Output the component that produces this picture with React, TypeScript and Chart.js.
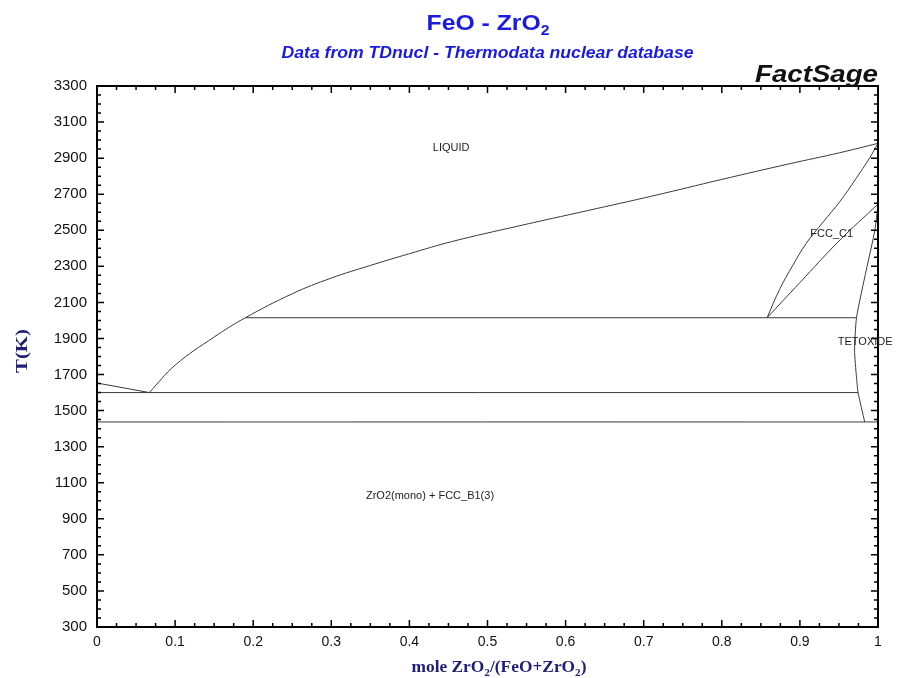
import React, { useEffect, useRef } from 'react';
import { Chart, registerables } from 'chart.js';
Chart.register(...registerables);

// ---- axis ticks ----
const xTickValues = [0, 0.1, 0.2, 0.3, 0.4, 0.5, 0.6, 0.7, 0.8, 0.9, 1];
const xTickLabels = ['0', '0.1', '0.2', '0.3', '0.4', '0.5', '0.6', '0.7', '0.8', '0.9', '1'];
const yTickValues = [300, 500, 700, 900, 1100, 1300, 1500, 1700, 1900, 2100, 2300, 2500, 2700, 2900, 3100, 3300];
const xMinorStep = 0.025;
const yMinorStep = 50;

// ---- phase boundaries (x = mole ZrO2/(FeO+ZrO2), T in K) ----
const liqLeftX = [0, 0.067];
const liqLeftT = [1653, 1600];

const liquidusX = [0.067, 0.1, 0.15, 0.19, 0.25, 0.3, 0.35, 0.4, 0.454, 0.54, 0.627, 0.713, 0.8, 0.886, 0.951, 1.0];
const liquidusT = [1600, 1752, 1908, 2015, 2148, 2235, 2305, 2370, 2437, 2524, 2608, 2692, 2782, 2868, 2930, 2982];

const fccUpperX = [0.858, 0.874, 0.891, 0.908, 0.93, 0.951, 0.972, 0.989, 1.0];
const fccUpperT = [2015, 2172, 2306, 2427, 2547, 2658, 2788, 2899, 2982];

const fccLowerX = [0.858, 0.9, 0.95, 1.0];
const fccLowerT = [2015, 2210, 2440, 2645];

const tetX = [1.0, 0.996, 0.985, 0.9725, 0.97, 0.9724, 0.9745, 0.983];
const tetT = [2645, 2500, 2280, 2015, 1835, 1687, 1600, 1437];

const monotecticX = [0.19, 0.9725];
const monotecticT = [2015, 2015];
const eutecticX = [0, 0.9745];
const eutecticT = [1600, 1600];
const lowerX = [0, 1];
const lowerT = [1437, 1437];

// ---- region labels ----
const labelTexts = ['LIQUID', 'FCC_C1', 'TETOXIDE', 'ZrO2(mono) + FCC_B1(3)'];
const labelX = [0.4534, 0.9408, 0.9836, 0.4264];
const labelT = [2958, 2482, 1881, 1024];

const toPts = (xs: number[], ts: number[]) => xs.map((x, i) => ({ x, y: ts[i] }));

const SANS = 'Arial, "Liberation Sans", Helvetica, sans-serif';
const SERIF = '"Times New Roman", "Liberation Serif", Times, serif';

type Part = { t: string; sub?: boolean };

function drawRich(
  ctx: CanvasRenderingContext2D,
  parts: Part[],
  x: number,
  y: number,
  align: 'center' | 'right' | 'left',
  font: string,
  subFont: string,
  subDy: number,
  targetW?: number
) {
  ctx.save();
  ctx.textAlign = 'left';
  ctx.textBaseline = 'alphabetic';
  const widths: number[] = [];
  let total = 0;
  for (const p of parts) {
    ctx.font = p.sub ? subFont : font;
    const w = ctx.measureText(p.t).width;
    widths.push(w);
    total += w;
  }
  const sx = targetW ? targetW / total : 1;
  const start = align === 'center' ? x - (total * sx) / 2 : align === 'right' ? x - total * sx : x;
  ctx.translate(start, y);
  ctx.scale(sx, 1);
  let cx = 0;
  parts.forEach((p, i) => {
    ctx.font = p.sub ? subFont : font;
    ctx.fillText(p.t, cx, p.sub ? subDy : 0);
    cx += widths[i];
  });
  ctx.restore();
}

const overlayPlugin = {
  id: 'overlay',
  afterDraw(chart: any) {
    const ctx: CanvasRenderingContext2D = chart.ctx;
    const xs = chart.scales.x;
    const ys = chart.scales.y;
    const { left, right, top, bottom } = chart.chartArea;
    ctx.save();

    // inner ticks on all four sides
    ctx.strokeStyle = '#000';
    ctx.lineWidth = 1.5;
    ctx.beginPath();
    for (let v = 300; v <= 3300 + 1e-6; v += yMinorStep) {
      const p = ys.getPixelForValue(v);
      const major = yTickValues.includes(Math.round(v));
      const len = major ? 7 : 4;
      ctx.moveTo(left, p);
      ctx.lineTo(left + len, p);
      ctx.moveTo(right, p);
      ctx.lineTo(right - len, p);
    }
    for (let i = 0; i <= 40; i++) {
      const v = i * xMinorStep;
      const p = xs.getPixelForValue(v);
      const major = i % 4 === 0;
      const len = major ? 7 : 4;
      ctx.moveTo(p, bottom);
      ctx.lineTo(p, bottom - len);
      ctx.moveTo(p, top);
      ctx.lineTo(p, top + len);
    }
    ctx.stroke();

    // frame
    ctx.lineWidth = 2;
    ctx.strokeRect(left, top, right - left, bottom - top);

    // region labels
    ctx.fillStyle = '#222';
    ctx.font = `11px ${SANS}`;
    ctx.textAlign = 'center';
    ctx.textBaseline = 'middle';
    labelTexts.forEach((t, i) => {
      ctx.fillText(t, xs.getPixelForValue(labelX[i]), ys.getPixelForValue(labelT[i]));
    });

    // titles
    ctx.fillStyle = '#1a1ae0';
    drawRich(ctx, [{ t: 'FeO - ZrO' }, { t: '2', sub: true }], 488, 30, 'center',
      `bold 22px ${SANS}`, `bold 14px ${SANS}`, 5, 123);
    drawRich(ctx, [{ t: 'Data from TDnucl - Thermodata nuclear database' }], 487.5, 58, 'center',
      `italic bold 16px ${SANS}`, `italic bold 16px ${SANS}`, 0, 412);
    ctx.fillStyle = '#111';
    drawRich(ctx, [{ t: 'FactSage' }], 878, 82, 'right',
      `italic bold 24px ${SANS}`, `italic bold 24px ${SANS}`, 0, 123);

    // axis titles
    ctx.fillStyle = '#1e1e78';
    drawRich(ctx,
      [{ t: 'mole ZrO' }, { t: '2', sub: true }, { t: '/(FeO+ZrO' }, { t: '2', sub: true }, { t: ')' }],
      499, 672, 'center', `bold 17px ${SERIF}`, `bold 11px ${SERIF}`, 4, 175);
    ctx.save();
    ctx.translate(27, 351);
    ctx.rotate(-Math.PI / 2);
    drawRich(ctx, [{ t: 'T(K)' }], 0, 0, 'center', `bold 17px ${SERIF}`, `bold 17px ${SERIF}`, 0, 44);
    ctx.restore();

    ctx.restore();
  },
};

const lineStyle = {
  showLine: true,
  pointRadius: 0,
  pointHoverRadius: 0,
  borderColor: '#3a3a3a',
  borderWidth: 1,
  fill: false,
};

export default function App() {
  const ref = useRef<HTMLCanvasElement | null>(null);
  useEffect(() => {
    if (!ref.current) return;
    const chart = new Chart(ref.current, {
      type: 'scatter',
      data: {
        datasets: [
          { ...lineStyle, data: toPts(liqLeftX, liqLeftT) },
          { ...lineStyle, data: toPts(liquidusX, liquidusT), tension: 0.4 },
          { ...lineStyle, data: toPts(fccUpperX, fccUpperT), tension: 0.4 },
          { ...lineStyle, data: toPts(fccLowerX, fccLowerT), tension: 0.4 },
          { ...lineStyle, data: toPts(tetX, tetT), tension: 0.2 },
          { ...lineStyle, data: toPts(monotecticX, monotecticT) },
          { ...lineStyle, data: toPts(eutecticX, eutecticT) },
          { ...lineStyle, data: toPts(lowerX, lowerT) },
        ] as any,
      },
      options: {
        responsive: false,
        animation: false,
        devicePixelRatio: 1,
        layout: { padding: { left: 0, right: 19, top: 86, bottom: 0 } },
        plugins: { legend: { display: false }, tooltip: { enabled: false }, title: { display: false } },
        events: [],
        scales: {
          x: {
            type: 'linear',
            min: 0,
            max: 1,
            grid: { display: false, drawTicks: false },
            border: { display: false },
            afterBuildTicks: (s: any) => {
              s.ticks = xTickValues.map((v) => ({ value: v }));
            },
            afterFit: (s: any) => {
              s.height = 51;
            },
            ticks: {
              autoSkip: false,
              maxRotation: 0,
              padding: 7,
              color: '#111',
              font: { family: SANS, size: 14 },
              callback: (_v: any, i: number) => xTickLabels[i],
            },
          },
          y: {
            type: 'linear',
            min: 300,
            max: 3300,
            grid: { display: false, drawTicks: false },
            border: { display: false },
            afterBuildTicks: (s: any) => {
              s.ticks = yTickValues.map((v) => ({ value: v }));
            },
            afterFit: (s: any) => {
              s.width = 97;
            },
            ticks: {
              autoSkip: false,
              padding: 10,
              color: '#111',
              font: { family: SANS, size: 15 },
              callback: (v: any) => String(v),
            },
          },
        },
      } as any,
      plugins: [overlayPlugin],
    });
    return () => chart.destroy();
  }, []);
  return (
    <div style={{ position: 'fixed', left: 0, top: 0, width: 897, height: 678, background: '#fff' }}>
      <canvas ref={ref} width={897} height={678} />
    </div>
  );
}
